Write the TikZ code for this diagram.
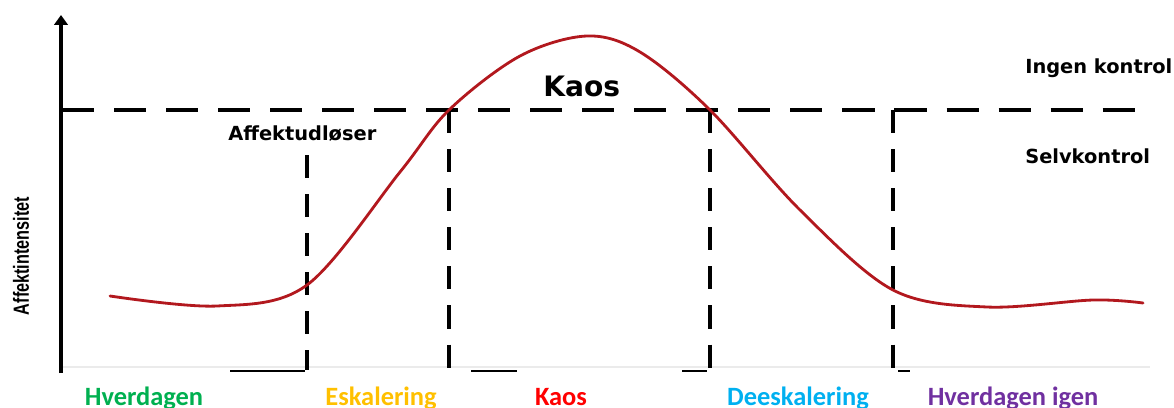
\documentclass[tikz,border=0pt]{standalone}
\usepackage{fontspec}
\usepackage{xcolor}
\usetikzlibrary{arrows.meta}
\newfontfamily\zonefont{DejaVu Sans}
\newfontfamily\phasefont{Carlito}
\newfontfamily\axisfont{Liberation Sans}
\definecolor{curvered}{RGB}{178,24,30}
\definecolor{phasegreen}{HTML}{00B050}
\definecolor{phaseorange}{HTML}{FFC000}
\definecolor{phasered}{HTML}{FF0000}
\definecolor{phaseblue}{HTML}{00B0F0}
\definecolor{phasepurple}{HTML}{7030A0}

\begin{document}
\begin{tikzpicture}[
  x=0.025cm, y=-0.025cm,
  axis/.style={line width=2.8pt, -{Triangle[length=7pt, width=9.5pt]}},
  hdash/.style={line width=2.2pt, dash pattern=on 22.8pt off 14.2pt},
  vdash/.style={line width=2.4pt, dash pattern=on 16.4pt off 11.4pt},
  stub/.style={line width=2pt},
  zone/.style={font=\zonefont\bfseries\fontsize{13.8}{16}\selectfont, anchor=base west, inner sep=0pt},
  phase/.style={font=\phasefont\bfseries\fontsize{18.8}{22}\selectfont, anchor=base, inner sep=0pt},
  affekt/.style={draw=curvered, line width=2pt, line cap=round}
]
\useasboundingbox (0,0) rectangle (1174,407);
\clip (0,0) rectangle (1174,407);

% axes
\coordinate (origin) at (61,373);
\coordinate (ytop) at (61,15);
\draw[black!8, line width=0.8pt] (61,367) -- (1150,367);
\draw[axis] (origin) -- (ytop);
\node[rotate=90, font=\axisfont\bfseries\fontsize{15.6}{18}\selectfont] (ylabel) at (21,256) {\scalebox{0.74}[1]{Affektintensitet}};

% threshold line
\coordinate (limL) at (62,110);
\coordinate (limR) at (1150,110);
\draw[hdash] (limL) -- (limR);

% phase borders
\draw[vdash] (307,155) -- (307,370);
\draw[vdash] (449,110) -- (449,370);
\draw[vdash] (710,110) -- (710,370);
\draw[vdash] (893,110) -- (893,370);

% bits of the time axis
\draw[stub] (230,371) -- (305,371);
\draw[stub] (471,371) -- (517,371);
\draw[stub] (682,371) -- (707,371);
\draw[stub] (898,371) -- (910,371);

% affect curve
\draw[affekt] plot[smooth, tension=0.55] coordinates {
  (110,296) (217,306) (307,285) (400,172) (449,110) (520,56) (587,36)
  (640,52) (710,110) (800,210) (893,290) (987,307) (1093,300) (1143,303)};

% zone labels
\node[zone] (trigger) at (228,140) {Affektudløser};
\node[zone, font=\zonefont\bfseries\fontsize{20}{24}\selectfont] (chaos) at (543,97) {Kaos};
\node[zone] (nocontrol) at (1025,73) {Ingen kontrol};
\node[zone] (selfcontrol) at (1025,163) {Selvkontrol};

% phase labels
\node[phase, text=phasegreen] (everyday) at (144,405) {Hverdagen};
\node[phase, text=phaseorange] (escalate) at (381,405) {Eskalering};
\node[phase, text=phasered] (chaosphase) at (561,405) {Kaos};
\node[phase, text=phaseblue] (deescalate) at (798,405) {Deeskalering};
\node[phase, text=phasepurple] (everydayagain) at (1013,405) {Hverdagen igen};

\end{tikzpicture}
\end{document}
